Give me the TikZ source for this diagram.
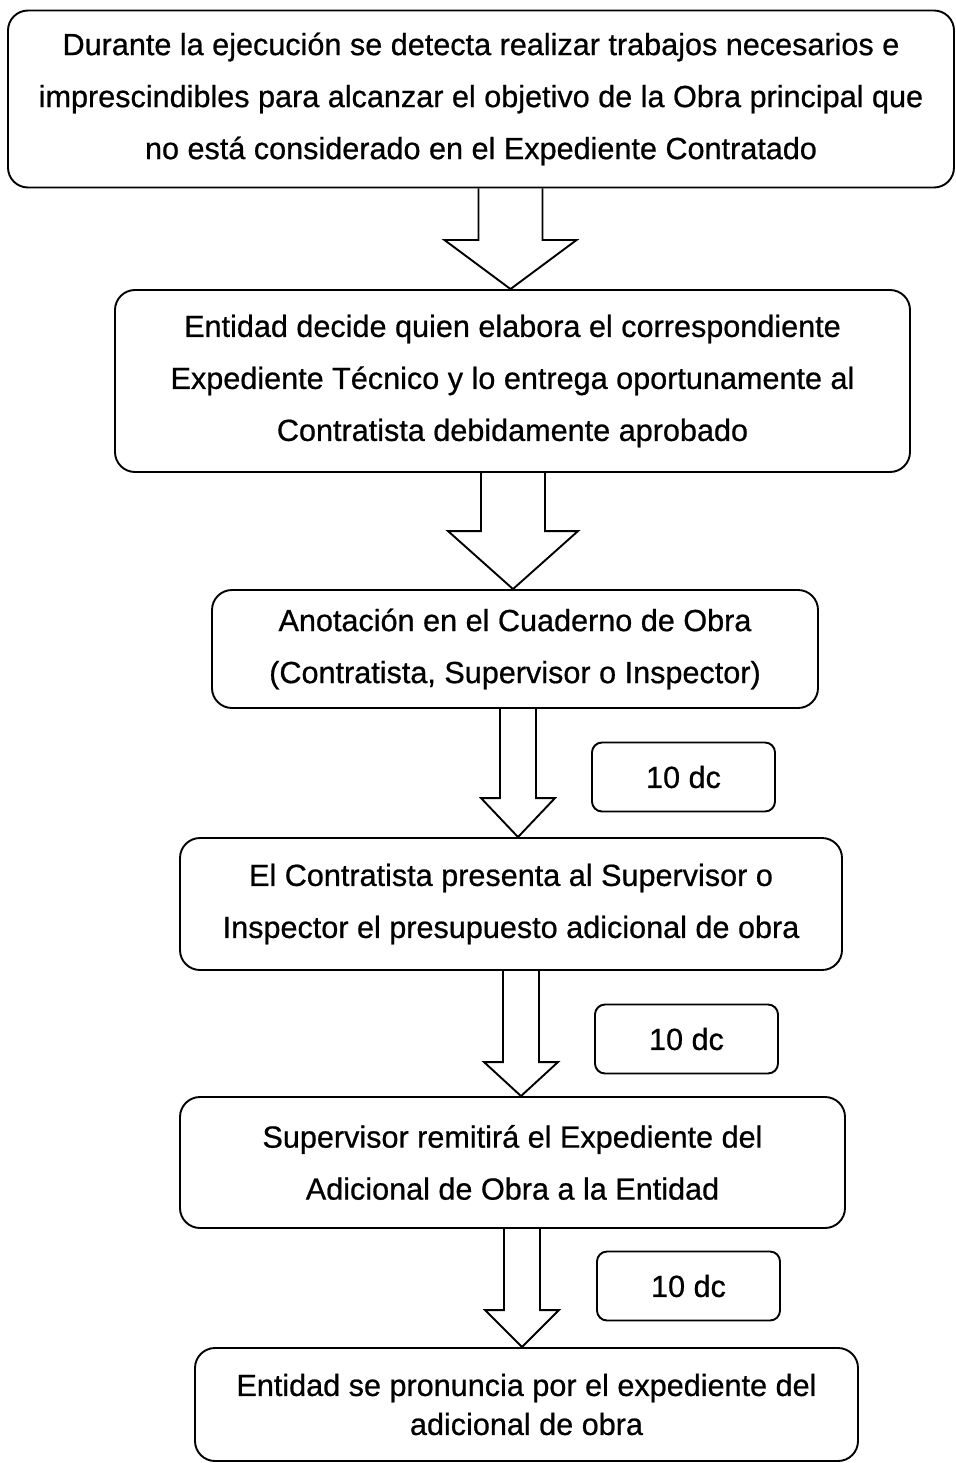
\documentclass[tikz,border=0pt]{standalone}
\usepackage{fontspec}
\setmainfont{Liberation Sans}[FakeBold=0.7]
\usetikzlibrary{calc}

% block arrow from the bottom of one box to the top of the next:
% from, to, x of the centre line, half width of shaft, half width of head, head length
\newcommand{\flechabloque}[6]{%
	\draw[flecha] let \p1 = (#1.south), \p2 = (#2.north) in
		({#3pt-#4pt}, \y1) -- ({#3pt-#4pt}, {\y2+#6pt}) -- ({#3pt-#5pt}, {\y2+#6pt})
		-- (#3pt, \y2) -- ({#3pt+#5pt}, {\y2+#6pt}) -- ({#3pt+#4pt}, {\y2+#6pt})
		-- ({#3pt+#4pt}, \y1);}

\begin{document}
\begin{tikzpicture}[x=1pt, y=-1pt]
	\tikzset{paso/.style = {shape=rectangle, draw, line width=1.9pt, rounded corners=20pt,
		align=center, inner sep=0pt, font=\fontsize{30.6}{52}\selectfont}}
	\tikzset{plazo/.style = {shape=rectangle, draw, line width=1.9pt, rounded corners=10pt,
		minimum width=183pt, minimum height=69pt, inner sep=0pt, font=\fontsize{30.6}{36}\selectfont}}
	\tikzset{flecha/.style = {line width=1.9pt, line join=miter}}
	\useasboundingbox (0, 0) rectangle (955, 1463);
	\node[paso, minimum width=946pt, minimum height=177pt] (detecta) at (481, 99)
		{Durante la ejecución se detecta realizar trabajos necesarios e\\
		 imprescindibles para alcanzar el objetivo de la Obra principal que\\
		 no está considerado en el Expediente Contratado};
	\node[paso, minimum width=795pt, minimum height=182pt] (entidad) at (512.5, 381)
		{Entidad decide quien elabora el correspondiente\\
		 Expediente Técnico y lo entrega oportunamente al\\
		 Contratista debidamente aprobado};
	\node[paso, minimum width=606pt, minimum height=118pt] (anotacion) at (515, 649)
		{Anotación en el Cuaderno de Obra\\
		 (Contratista, Supervisor o Inspector)};
	\node[paso, minimum width=662pt, minimum height=132pt] (presenta) at (511, 904)
		{El Contratista presenta al Supervisor o\\
		 Inspector el presupuesto adicional de obra};
	\node[paso, minimum width=665pt, minimum height=131pt] (remite) at (512.5, 1162.5)
		{Supervisor remitirá el Expediente del\\
		 Adicional de Obra a la Entidad};
	\node[paso, minimum width=663pt, minimum height=113pt,
		font=\fontsize{30.6}{39}\selectfont] (pronuncia) at (526.5, 1404.5)
		{Entidad se pronuncia por el expediente del\\
		 adicional de obra};
	\node[plazo] (plazoa) at (683.5, 777) {10 dc};
	\node[plazo] (plazob) at (686.5, 1039) {10 dc};
	\node[plazo] (plazoc) at (688.5, 1286) {10 dc};
	\flechabloque{detecta}{entidad}{510.5}{32}{66}{49}
	\flechabloque{entidad}{anotacion}{513}{32}{65}{58}
	\flechabloque{anotacion}{presenta}{518}{18}{37}{39}
	\flechabloque{presenta}{remite}{521}{18}{37}{34}
	\flechabloque{remite}{pronuncia}{522}{18}{37}{37}
\end{tikzpicture}
\end{document}
